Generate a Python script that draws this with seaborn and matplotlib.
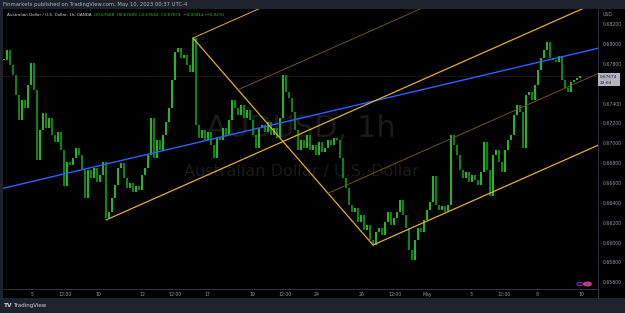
import numpy as np
import pandas as pd
import matplotlib
matplotlib.use("Agg")
import matplotlib.pyplot as plt
from matplotlib.patches import Rectangle, Circle
import seaborn as sns

# ---------------- data ----------------
closes = [
    0.67839, 0.67940, 0.67788, 0.67688, 0.67486, 0.67235, 0.67436, 0.67355, 0.67587, 0.67809,
    0.67537, 0.66832, 0.67134, 0.67305, 0.67154, 0.67255, 0.67084, 0.67013, 0.67114, 0.66933,
    0.66570, 0.66812, 0.66781, 0.66852, 0.66953, 0.66882, 0.66731, 0.66449, 0.66731, 0.66651,
    0.66751, 0.66610, 0.66681, 0.66812, 0.66248, 0.66308, 0.66449, 0.66580, 0.66751, 0.66802,
    0.66651, 0.66550, 0.66600, 0.66510, 0.66570, 0.66530, 0.66681, 0.66751, 0.66882, 0.67255,
    0.66852, 0.67033, 0.66933, 0.67084, 0.67214, 0.67355, 0.67637, 0.67919, 0.67960, 0.67859,
    0.67889, 0.67788, 0.67718, 0.68060, 0.67184, 0.67053, 0.67134, 0.67033, 0.67114, 0.66983,
    0.66852, 0.67053, 0.67033, 0.67154, 0.67084, 0.67235, 0.67436, 0.67355, 0.67285, 0.67386,
    0.67255, 0.67335, 0.67235, 0.67084, 0.66953, 0.67154, 0.67184, 0.67114, 0.67214, 0.67084,
    0.67154, 0.67053, 0.67255, 0.67688, 0.67517, 0.67456, 0.67315, 0.67134, 0.66933, 0.67033,
    0.66953, 0.67084, 0.66933, 0.66983, 0.66882, 0.67013, 0.66912, 0.66953, 0.67033, 0.66983,
    0.67053, 0.67033, 0.66852, 0.66651, 0.66550, 0.66379, 0.66308, 0.66348, 0.66207, 0.66278,
    0.66127, 0.66177, 0.66026, 0.65976, 0.66107, 0.66147, 0.66077, 0.66207, 0.66308, 0.66177,
    0.66248, 0.66308, 0.66429, 0.66278, 0.66147, 0.65926, 0.65825, 0.66026, 0.66147, 0.66107,
    0.66228, 0.66328, 0.66409, 0.66671, 0.66379, 0.66328, 0.66369, 0.66308, 0.66379, 0.67084,
    0.66983, 0.66882, 0.66731, 0.66651, 0.66711, 0.66610, 0.66681, 0.66630, 0.66580, 0.66711,
    0.67013, 0.66731, 0.66469, 0.66882, 0.66933, 0.66812, 0.66711, 0.66933, 0.67033, 0.67084,
    0.67285, 0.67386, 0.67315, 0.66953, 0.67486, 0.67517, 0.67436, 0.67587, 0.67738, 0.67859,
    0.67940, 0.68020, 0.67859, 0.67839, 0.67819, 0.67879, 0.67637, 0.67557, 0.67517, 0.67617,
    0.67637, 0.67658, 0.67674,
]
time_labels = ["5", "12:00", "10", "12", "12:00", "17", "19", "12:00", "24",
               "26", "12:00", "May", "3", "12:00", "8", "10"]
time_label_bars = [9.33, 20.33, 31.33, 46.0, 57.0, 67.67, 82.67, 93.67, 104.33,
                   119.33, 130.33, 141.0, 155.67, 166.67, 177.67, 192.33]
# 0.67600 sits behind the last-price tag in the reference, so it is not listed
price_ticks = [0.656, 0.658, 0.660, 0.662, 0.664, 0.666, 0.668, 0.670,
               0.672, 0.674, 0.678, 0.680, 0.682]
# trend line anchors (bar index, price)
trend_bars = [0, 192]
trend_prices = [0.66549, 0.67914]
# pitchfork pivots A, B, C (bar index, price)
fork_bars = [34, 63, 123]
fork_prices = [0.66228, 0.68060, 0.65976]
last_price = 0.67674

df = pd.DataFrame({"bar": np.arange(len(closes)), "close": closes})
df["open"] = df["close"].shift(1).fillna(df["close"].iloc[0])
df["up"] = df["close"] >= df["open"]

# ---------------- style ----------------
sns.set_theme(style="dark")
plt.rcParams["font.family"] = ["DejaVu Sans"]

W, H = 625, 313
fig = plt.figure(figsize=(W / 100, H / 100), dpi=100, facecolor="#1e222d")

def fx(px):
    return px / W

def fy(py):
    return 1 - py / H

# black panel (chart + axes strips)
bg = fig.add_axes([fx(3), fy(298), fx(625 - 3), (298 - 9) / H])
bg.set_facecolor("black")
bg.set_xticks([]); bg.set_yticks([])
for s in bg.spines.values():
    s.set_visible(False)

ax = fig.add_axes([fx(3), fy(289), fx(598 - 3), (289 - 9) / H])
ax.set_facecolor("black")
ax.patch.set_alpha(0)

# watermark
ax.text(0.501, 0.573, "AUDUSD, 1h", transform=ax.transAxes, ha="center", va="center",
        fontsize=22, color="#1a1a1a", zorder=0)
ax.text(0.501, 0.421, "Australian Dollar / U.S. Dollar", transform=ax.transAxes,
        ha="center", va="center", fontsize=11.5, color="#1a1a1a", zorder=0)

# last price line
ax.axhline(last_price, color="#363636", lw=0.6, ls=(0, (1, 1)), zorder=1)

# candles
up = df[df["up"]]
dn = df[~df["up"]]
ax.bar(up["bar"], (up["close"] - up["open"]).abs().clip(lower=0.00005), bottom=up["open"],
       width=0.6, color="#23b523", linewidth=0, zorder=3)
ax.bar(dn["bar"], (dn["open"] - dn["close"]).abs().clip(lower=0.00005), bottom=dn["close"],
       width=0.6, color="#0f820f", linewidth=0, zorder=3)

# blue trend line (infinite)
ax.axline((trend_bars[0], trend_prices[0]), (trend_bars[1], trend_prices[1]),
          color="#2962ff", lw=1.0, zorder=4)

# pitchfork
A = np.array([fork_bars[0], fork_prices[0]])
B = np.array([fork_bars[1], fork_prices[1]])
C = np.array([fork_bars[2], fork_prices[2]])
M = (B + C) / 2
d = (M - A) / (M - A)[0]
x_end = 220
gold = "#e3ad2a"
dim = "#6f5520"

def ray(p, color, lw):
    end = p + d * (x_end - p[0])
    sns.lineplot(x=[p[0], end[0]], y=[p[1], end[1]], ax=ax, color=color, lw=lw,
                 zorder=4, sort=False, estimator=None)

sns.lineplot(x=[B[0], C[0]], y=[B[1], C[1]], ax=ax, color=gold, lw=0.9, zorder=4,
             sort=False, estimator=None)
ray(A, gold, 0.9)
ray(B, gold, 0.7)
ray(C, gold, 0.9)
ray(B + 0.25 * (C - B), dim, 0.7)
ray(B + 0.75 * (C - B), dim, 0.7)

ax.set_xlim(-0.333, 198)
ax.set_ylim(0.65533, 0.68352)

# axes / ticks
ax.set_xlabel(""); ax.set_ylabel("")
ax.yaxis.tick_right()
ax.set_yticks(price_ticks)
ax.set_yticklabels([f"{v:.5f}" for v in price_ticks])
ax.set_xticks(time_label_bars)
ax.set_xticklabels(time_labels)
ax.tick_params(axis="y", length=0, pad=3.6, labelsize=3.3, labelcolor="#9598a1")
ax.tick_params(axis="x", length=0, pad=2.0, labelsize=3.3, labelcolor="#9598a1")
ax.grid(False)
for k, s in ax.spines.items():
    s.set_visible(k in ("bottom", "right"))
    s.set_color("#3a3e49")
    s.set_linewidth(0.6)
ax.spines["right"].set_bounds(0.65533 - 0.0009, 0.68352)

# price tag
fig.patches.append(Rectangle((fx(598), fy(86)), fx(22), 13 / H, transform=fig.transFigure,
                             facecolor="#b2b5be", edgecolor="none", zorder=5))
fig.text(fx(599.5), fy(76.5), f"{last_price:.5f}", fontsize=3.1, color="#131722",
         va="center", ha="left", zorder=6)
fig.text(fx(599.5), fy(82.5), "22:04", fontsize=3.1, color="#131722", va="center",
         ha="left", zorder=6)
fig.text(fx(603), fy(15), "USD", fontsize=3.3, color="#9598a1", va="center", ha="left")

# header
fig.text(fx(3), fy(4.5), "Finmarkets published on TradingView.com, May 10, 2023 00:37 UTC-4",
         fontsize=3.8, color="#b2b5be", va="center", ha="left")
fig.text(fx(7), fy(15), "Australian Dollar / U.S. Dollar, 1h, OANDA",
         fontsize=3.0, color="#d1d4dc", va="center", ha="left")
fig.text(fx(94), fy(15), "O0.67688  H0.67689  L0.67642  C0.67674  \u22120.00014 (\u22120.02%)",
         fontsize=3.0, color="#22c322", va="center", ha="left")

# event icons
fig.patches.append(Circle((fx(580), fy(284)), 3.2 / W, transform=fig.transFigure,
                          facecolor="#1a1030", edgecolor="#9c27b0", lw=0.6, zorder=6))
fig.patches.append(Circle((fx(587.5), fy(284)), 3.6 / W, transform=fig.transFigure,
                          facecolor="#2962ff", edgecolor="#f23645", lw=1.0, zorder=6))

# footer logo
fig.text(fx(4), fy(305.5), "TV", fontsize=4.2, color="#d1d4dc", weight="bold",
         va="center", ha="left")
fig.text(fx(13), fy(305.5), "TradingView", fontsize=4.0, color="#d1d4dc",
         va="center", ha="left")

fig.savefig("out.png", dpi=100, facecolor=fig.get_facecolor())
